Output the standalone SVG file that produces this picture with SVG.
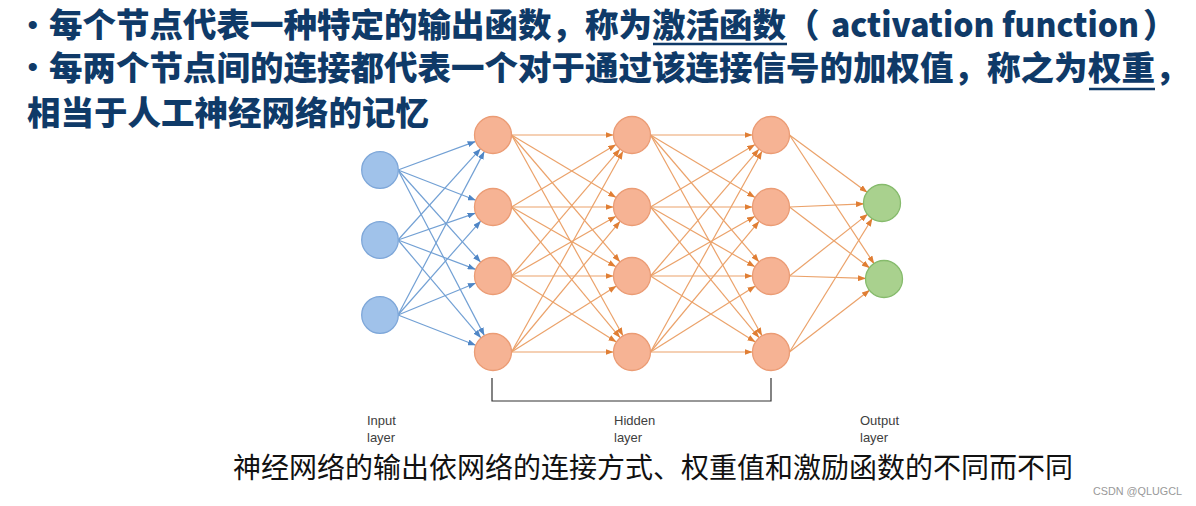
<svg xmlns="http://www.w3.org/2000/svg" width="1196" height="506" viewBox="0 0 1196 506">
<style>
.title{font-family:"Noto Sans CJK SC","Noto Sans",sans-serif;font-weight:900;font-size:33.5px;fill:#0f3a68}
.bullet{font-family:"Liberation Sans",sans-serif;font-size:30px;fill:#0f3a68}
.ul{stroke:#0f3a68;stroke-width:2.6}
.lbl{font-family:"Liberation Sans","Open Sans",sans-serif;font-size:13px;fill:#404040}
.cap{font-family:"Noto Sans CJK SC",serif;font-size:28px;fill:#111}
.wm{font-family:"Liberation Sans",sans-serif;font-size:11px;fill:#999}
.eb line{stroke:#72a0d4;stroke-width:1.2;marker-end:url(#ab)}
.eo line{stroke:#eba26a;stroke-width:1.2;marker-end:url(#ao)}
.nb{fill:#a0c2ea;stroke:#7ea7d9;stroke-width:1.3}
.no{fill:#f6b394;stroke:#eb9c75;stroke-width:1.3}
.ng{fill:#a9d18e;stroke:#86bb6c;stroke-width:1.3}
</style>
<defs>
<marker id="ab" viewBox="0 0 8 6" refX="8" refY="3" markerWidth="8" markerHeight="6" markerUnits="userSpaceOnUse" orient="auto"><path d="M0,0 L8,3 L0,6 z" fill="#4f86c6"/></marker>
<marker id="ao" viewBox="0 0 8 6" refX="8" refY="3" markerWidth="8" markerHeight="6" markerUnits="userSpaceOnUse" orient="auto"><path d="M0,0 L8,3 L0,6 z" fill="#e07e34"/></marker>
</defs>
<rect width="1196" height="506" fill="#fff"/>

<g id="title">
<text class="bullet" x="32.7" y="35" text-anchor="middle">•</text>
<text class="title" x="49" y="37">每个节点代表一种特定的输出函数，称为<tspan x="652">激活函数</tspan><tspan x="786">（</tspan><tspan x="831" textLength="308" lengthAdjust="spacingAndGlyphs">activation function</tspan><tspan x="1143">）</tspan></text>
<line class="ul" x1="653" y1="44" x2="787" y2="44"/>
<text class="bullet" x="32.7" y="77" text-anchor="middle">•</text>
<text class="title" x="49" y="80">每两个节点间的连接都代表一个对于通过该连接信号的加权值，称之为<tspan x="1088">权重</tspan><tspan x="1155">，</tspan></text>
<line class="ul" x1="1089" y1="89" x2="1155" y2="89"/>
<text class="title" x="27" y="125">相当于人工神经网络的记忆</text>
</g>

<g id="connectors">
<g class="eb">
<line x1="398" y1="170" x2="475.6" y2="141.4"/>
<line x1="398" y1="170" x2="475.8" y2="200.3"/>
<line x1="398" y1="170" x2="480.7" y2="262.2"/>
<line x1="398" y1="170" x2="484.4" y2="335.6"/>
<line x1="398" y1="240" x2="480.6" y2="148.7"/>
<line x1="398" y1="240" x2="475.5" y2="213.1"/>
<line x1="398" y1="240" x2="475.7" y2="269.4"/>
<line x1="398" y1="240" x2="481.0" y2="337.9"/>
<line x1="398" y1="315" x2="484.4" y2="151.4"/>
<line x1="398" y1="315" x2="480.8" y2="220.9"/>
<line x1="398" y1="315" x2="475.9" y2="283.0"/>
<line x1="398" y1="315" x2="475.8" y2="345.3"/>
</g>
<g class="eo">
<line x1="511.5" y1="135" x2="613.5" y2="135"/>
<line x1="511.5" y1="135" x2="616.1" y2="197.5"/>
<line x1="511.5" y1="135" x2="620.0" y2="261.9"/>
<line x1="511.5" y1="135" x2="623.0" y2="335.8"/>
<line x1="511.5" y1="207" x2="616.1" y2="144.5"/>
<line x1="511.5" y1="207" x2="613.5" y2="207"/>
<line x1="511.5" y1="207" x2="616.0" y2="266.8"/>
<line x1="511.5" y1="207" x2="620.2" y2="337.8"/>
<line x1="511.5" y1="276" x2="620.0" y2="149.1"/>
<line x1="511.5" y1="276" x2="616.0" y2="216.2"/>
<line x1="511.5" y1="276" x2="613.5" y2="276"/>
<line x1="511.5" y1="276" x2="616.4" y2="342.1"/>
<line x1="511.5" y1="352" x2="623.0" y2="151.2"/>
<line x1="511.5" y1="352" x2="620.2" y2="221.2"/>
<line x1="511.5" y1="352" x2="616.4" y2="285.9"/>
<line x1="511.5" y1="352" x2="613.5" y2="352"/>

<line x1="650.5" y1="135" x2="752.5" y2="135"/>
<line x1="650.5" y1="135" x2="755.1" y2="197.5"/>
<line x1="650.5" y1="135" x2="759.0" y2="261.9"/>
<line x1="650.5" y1="135" x2="762.0" y2="335.8"/>
<line x1="650.5" y1="207" x2="755.1" y2="144.5"/>
<line x1="650.5" y1="207" x2="752.5" y2="207"/>
<line x1="650.5" y1="207" x2="755.0" y2="266.8"/>
<line x1="650.5" y1="207" x2="759.2" y2="337.8"/>
<line x1="650.5" y1="276" x2="759.0" y2="149.1"/>
<line x1="650.5" y1="276" x2="755.0" y2="216.2"/>
<line x1="650.5" y1="276" x2="752.5" y2="276"/>
<line x1="650.5" y1="276" x2="755.4" y2="342.1"/>
<line x1="650.5" y1="352" x2="762.0" y2="151.2"/>
<line x1="650.5" y1="352" x2="759.2" y2="221.2"/>
<line x1="650.5" y1="352" x2="755.4" y2="285.9"/>
<line x1="650.5" y1="352" x2="752.5" y2="352"/>

<line x1="789.5" y1="135" x2="867.4" y2="192.4"/>
<line x1="789.5" y1="135" x2="874.2" y2="263.9"/>
<line x1="789.5" y1="207" x2="864.0" y2="203.8"/>
<line x1="789.5" y1="207" x2="869.7" y2="268.0"/>
<line x1="789.5" y1="276" x2="867.8" y2="214.1"/>
<line x1="789.5" y1="276" x2="866.0" y2="278.4"/>
<line x1="789.5" y1="352" x2="872.4" y2="218.3"/>
<line x1="789.5" y1="352" x2="869.8" y2="290.1"/>
</g>
</g>

<g id="nodes">
<g id="in1"><circle class="nb" cx="380" cy="170" r="18.3"/></g>
<g id="in2"><circle class="nb" cx="380" cy="240" r="18.3"/></g>
<g id="in3"><circle class="nb" cx="380" cy="315" r="18.3"/></g>
<g id="h1a"><circle class="no" cx="493" cy="135" r="18.5"/></g>
<g id="h1b"><circle class="no" cx="493" cy="207" r="18.5"/></g>
<g id="h1c"><circle class="no" cx="493" cy="276" r="18.5"/></g>
<g id="h1d"><circle class="no" cx="493" cy="352" r="18.5"/></g>
<g id="h2a"><circle class="no" cx="632" cy="135" r="18.5"/></g>
<g id="h2b"><circle class="no" cx="632" cy="207" r="18.5"/></g>
<g id="h2c"><circle class="no" cx="632" cy="276" r="18.5"/></g>
<g id="h2d"><circle class="no" cx="632" cy="352" r="18.5"/></g>
<g id="h3a"><circle class="no" cx="771" cy="135" r="18.5"/></g>
<g id="h3b"><circle class="no" cx="771" cy="207" r="18.5"/></g>
<g id="h3c"><circle class="no" cx="771" cy="276" r="18.5"/></g>
<g id="h3d"><circle class="no" cx="771" cy="352" r="18.5"/></g>
<g id="out1"><circle class="ng" cx="882" cy="203" r="18.5"/></g>
<g id="out2"><circle class="ng" cx="884" cy="279" r="18.5"/></g>
</g>

<g id="bracket"><path d="M492,378 V401 H771 V378" fill="none" stroke="#333" stroke-width="1.2"/></g>

<g id="labels">
<text class="lbl" x="367" y="425">Input<tspan x="367" dy="17">layer</tspan></text>
<text class="lbl" x="614" y="425">Hidden<tspan x="614" dy="17">layer</tspan></text>
<text class="lbl" x="860" y="425">Output<tspan x="860" dy="17">layer</tspan></text>
</g>

<text class="cap" x="233" y="478">神经网络的输出依网络的连接方式、权重值和激励函数的不同而不同</text>
<text class="wm" x="1093" y="495" textLength="89" lengthAdjust="spacingAndGlyphs">CSDN @QLUGCL</text>
</svg>
